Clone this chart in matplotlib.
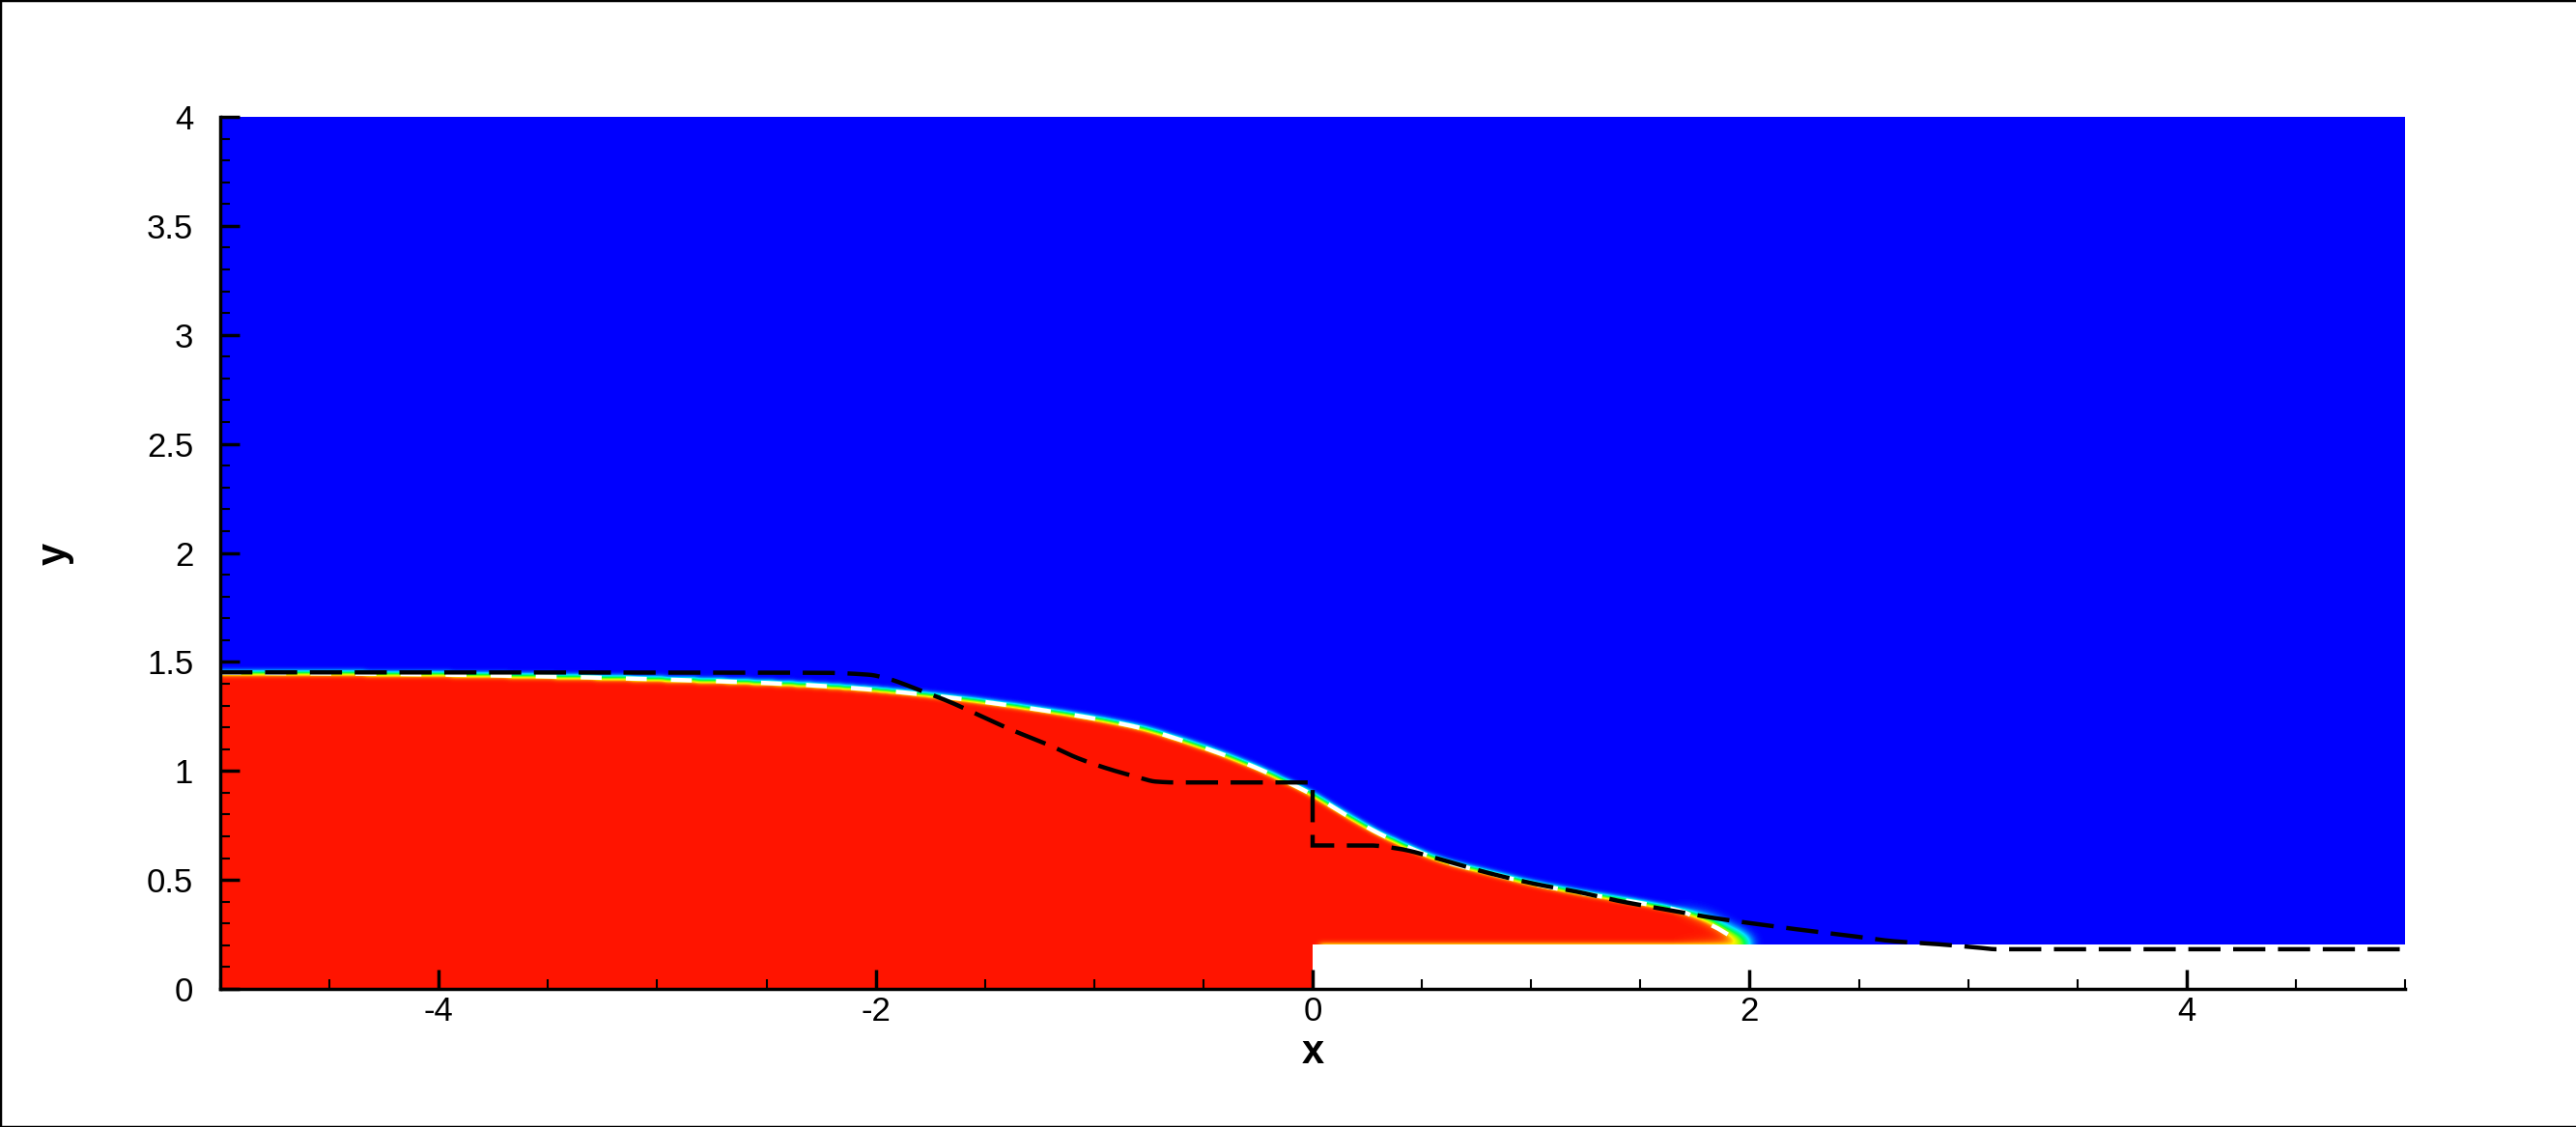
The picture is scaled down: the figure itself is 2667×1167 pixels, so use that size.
import numpy as np
import matplotlib
matplotlib.use("Agg")
import matplotlib.pyplot as plt
from matplotlib.colors import LinearSegmentedColormap
from matplotlib.ticker import FixedLocator, MultipleLocator
from matplotlib.lines import Line2D

plt.rcParams['font.family'] = ['Liberation Sans', 'DejaVu Sans']
plt.rcParams['axes.unicode_minus'] = False
plt.rcParams['lines.scale_dashes'] = False

# ---------------- data ----------------
# numerical free surface (volume-fraction interface)
iface_x = [-5.0, -4.5, -4.0, -3.5, -3.0, -2.5, -2.25, -1.95, -1.69, -1.44, -1.22,
           -1.0, -0.78, -0.63, -0.41, -0.26, -0.14, 0.0, 0.14, 0.29, 0.435, 0.58,
           0.80, 1.02, 1.245, 1.466, 1.687, 1.79, 1.86, 1.92, 1.96, 1.99, 2.01, 2.02]
iface_y = [1.450, 1.447, 1.442, 1.433, 1.420, 1.403, 1.390, 1.367, 1.340, 1.308, 1.276,
           1.240, 1.195, 1.150, 1.075, 1.015, 0.960, 0.890, 0.805, 0.720, 0.651, 0.592,
           0.533, 0.480, 0.437, 0.400, 0.356, 0.326, 0.292, 0.258, 0.236, 0.218, 0.205, 0.0]

# white dashed curve
white_x = [-5.0, -4.5, -4.0, -3.5, -3.0, -2.5, -2.25, -1.95, -1.69, -1.44, -1.22,
           -1.0, -0.78, -0.63, -0.41, -0.26, -0.14, 0.0, 0.14, 0.29, 0.435, 0.58,
           0.80, 1.02, 1.245, 1.466, 1.687, 1.79, 1.85, 1.90]
white_y = [1.450, 1.447, 1.442, 1.433, 1.420, 1.403, 1.390, 1.367, 1.340, 1.308, 1.276,
           1.240, 1.195, 1.150, 1.075, 1.015, 0.960, 0.890, 0.805, 0.720, 0.651, 0.592,
           0.533, 0.480, 0.437, 0.400, 0.356, 0.31, 0.28, 0.25]

# black dashed (analytical) curve
exact_x = [-5.0, -2.25, -2.03, -1.955, -1.81, -1.66, -1.513, -1.366, -1.219, -1.071,
           -0.924, -0.806, -0.718, -0.63, 0.0, 0.0, 0.26, 0.388, 0.594, 0.80, 1.021,
           1.213, 1.419, 1.625, 1.832, 2.038, 2.243, 2.45, 2.657, 2.864, 3.04, 3.13, 5.0]
exact_y = [1.452, 1.450, 1.441, 1.426, 1.375, 1.316, 1.249, 1.183, 1.124, 1.057,
           1.006, 0.973, 0.951, 0.947, 0.947, 0.658, 0.658, 0.644, 0.592, 0.533, 0.481,
           0.445, 0.400, 0.363, 0.326, 0.297, 0.270, 0.245, 0.219, 0.205, 0.190, 0.182, 0.182]

# step obstacle
step_x0, step_x1, step_h = 0.0, 5.0, 0.2

xticks = [-4, -2, 0, 2, 4]
xtick_labels = ['-4', '-2', '0', '2', '4']
yticks = [0, 0.5, 1, 1.5, 2, 2.5, 3, 3.5, 4]
ytick_labels = ['0', '0.5', '1', '1.5', '2', '2.5', '3', '3.5', '4']


# ---------------- helpers ----------------
def pchip(xk, yk, xq):
    xk = np.asarray(xk, float)
    yk = np.asarray(yk, float)
    xq = np.asarray(xq, float)
    hk = np.diff(xk)
    dk = np.diff(yk) / hk
    n = len(xk)
    m = np.zeros(n)
    m[0], m[-1] = dk[0], dk[-1]
    for i in range(1, n - 1):
        if dk[i - 1] * dk[i] > 0:
            w1 = 2 * hk[i] + hk[i - 1]
            w2 = hk[i] + 2 * hk[i - 1]
            m[i] = (w1 + w2) / (w1 / dk[i - 1] + w2 / dk[i])
    idx = np.clip(np.searchsorted(xk, xq) - 1, 0, n - 2)
    t = (xq - xk[idx]) / hk[idx]
    h00 = 2 * t**3 - 3 * t**2 + 1
    h10 = t**3 - 2 * t**2 + t
    h01 = -2 * t**3 + 3 * t**2
    h11 = t**3 - t**2
    return h00 * yk[idx] + h10 * hk[idx] * m[idx] + h01 * yk[idx + 1] + h11 * hk[idx] * m[idx + 1]


def smooth_path(xs, ys, per_unit=400):
    xs = list(xs)
    ys = list(ys)
    out_x, out_y = [], []
    start = 0
    for i in range(1, len(xs) + 1):
        if i == len(xs) or xs[i] == xs[i - 1]:
            seg_x, seg_y = xs[start:i], ys[start:i]
            if len(seg_x) >= 2:
                nq = max(2, int((seg_x[-1] - seg_x[0]) * per_unit))
                q = np.linspace(seg_x[0], seg_x[-1], nq)
                out_x.extend(q)
                out_y.extend(pchip(seg_x, seg_y, q))
            else:
                out_x.extend(seg_x)
                out_y.extend(seg_y)
            start = i
    return np.array(out_x), np.array(out_y)


def gauss_blur(a, sigma):
    r = int(3 * sigma) + 1
    k = np.exp(-0.5 * (np.arange(-r, r + 1) / sigma) ** 2)
    k /= k.sum()
    p = np.pad(a, ((0, 0), (r, r)), mode='edge')
    o = np.zeros_like(a)
    for i, w in enumerate(k):
        o += w * p[:, i:i + a.shape[1]]
    p = np.pad(o, ((r, r), (0, 0)), mode='edge')
    o2 = np.zeros_like(a)
    for i, w in enumerate(k):
        o2 += w * p[i:i + a.shape[0], :]
    return o2


# ---------------- figure ----------------
W, H = 2667, 1167
fig = plt.figure(figsize=(W / 100, H / 100), dpi=100)
L, R, T, B = 228, 2490, 121, 1024
ax = fig.add_axes([L / W, 1 - B / H, (R - L) / W, (B - T) / H])

# volume fraction field built from the interface curve
nx, ny = 2262, 903
xc = np.linspace(-5, 5, nx)
yc = np.linspace(0, 4, ny)
X, Y = np.meshgrid(xc, yc)
front = iface_x[-1]
h = np.where(xc <= front, pchip(iface_x, iface_y, np.clip(xc, -5, front)), 0.0)
water = (Y < h[None, :]).astype(float)
step = (X >= step_x0) & (Y < step_h)
ext = water.copy()
ext[step] = np.where(X[step] < 0.03, 1.0, np.where(X[step] < front - 0.04, 0.55, 0.0))

a_small = gauss_blur(ext, 3.0)
a_large = gauss_blur(ext, 6.5)
wf = np.clip((X - 1.65) / 0.3, 0, 1)
alpha = (1 - wf) * a_small + wf * a_large
alpha = np.ma.masked_where(step, alpha)

cmap = LinearSegmentedColormap.from_list('tec', [
    (0.0, (0.0, 0.0, 1.0)),
    (0.08, (0.0, 0.35, 1.0)),
    (0.22, (0.0, 0.9, 1.0)),
    (0.42, (0.0, 1.0, 0.3)),
    (0.6, (0.6, 1.0, 0.0)),
    (0.74, (1.0, 0.95, 0.0)),
    (0.9, (1.0, 0.35, 0.0)),
    (1.0, (1.0, 0.08, 0.0)),
])
cmap.set_bad('white')
ax.imshow(alpha, extent=[-5, 5, 0, 4], origin='lower', cmap=cmap, vmin=0, vmax=1,
          interpolation='nearest', aspect='auto', zorder=1)

wx, wy = smooth_path(white_x, white_y)
ax.plot(wx, wy, color='white', lw=3.2, dashes=(15.6, 18.0), zorder=3,
        dash_capstyle='butt')
ex, ey = smooth_path(exact_x, exact_y)
ax.plot(ex, ey, color='black', lw=3.2, dashes=(24.0, 9.4), zorder=4,
        dash_capstyle='butt', dash_joinstyle='miter')

ax.set_xlim(-5, 5)
ax.set_ylim(0, 4)
for s in ['top', 'right']:
    ax.spines[s].set_visible(False)
for s in ['left', 'bottom']:
    ax.spines[s].set_linewidth(2.5)
    ax.spines[s].set_zorder(5)

ax.xaxis.set_major_locator(FixedLocator(xticks))
ax.set_xticklabels(xtick_labels)
ax.yaxis.set_major_locator(FixedLocator(yticks))
ax.set_yticklabels(ytick_labels)
ax.xaxis.set_minor_locator(MultipleLocator(0.5))
ax.yaxis.set_minor_locator(MultipleLocator(0.1))
ax.tick_params(which='major', direction='in', length=14.5, width=2.5, labelsize=25,
               top=False, right=False)
ax.tick_params(which='minor', direction='in', length=7.5, width=1.5, top=False, right=False)
ax.tick_params(axis='y', which='major', pad=20)
ax.tick_params(axis='x', which='major', pad=5)

fig.text(1359 / W, 1 - 1101 / H, 'x', fontsize=30, fontweight='bold', ha='center',
         va='baseline')
fig.text(68 / W, 1 - 573 / H, 'y', fontsize=30, fontweight='bold', rotation=90,
         rotation_mode='anchor', ha='center', va='baseline')

# outer frame (top, left, bottom)
for xs, ys in [((0, 1), (1, 1)), ((0, 0), (0, 1)), ((0, 1), (0, 0))]:
    fig.add_artist(Line2D(xs, ys, transform=fig.transFigure, color='black', lw=2.5))

fig.savefig('out.png', dpi=100)
